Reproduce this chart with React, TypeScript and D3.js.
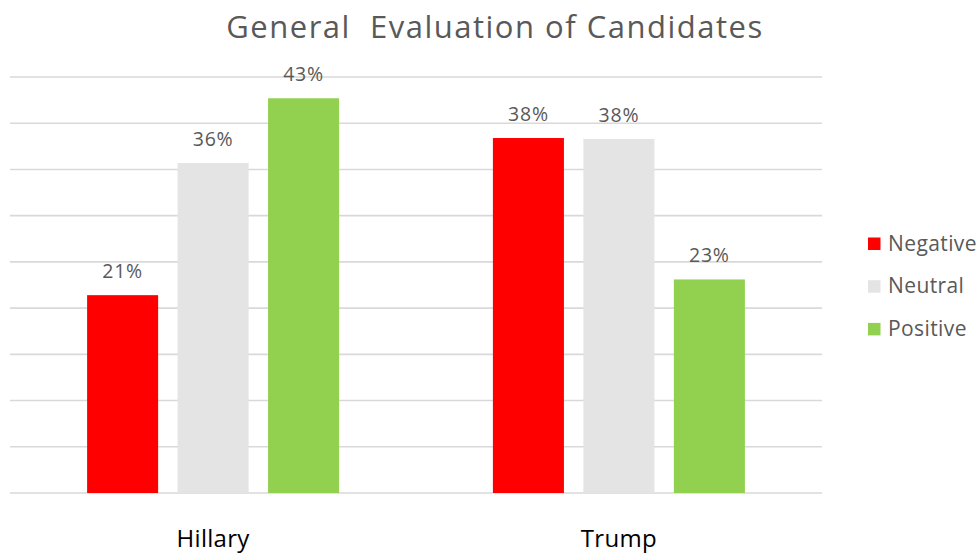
import React from "react";
import * as d3 from "d3";

const categories = ["Hillary", "Trump"];
const seriesNames = ["Negative", "Neutral", "Positive"];
const seriesColors = ["#ff0000", "#e4e4e4", "#92d050"];
const negativeValues = [21.4, 38.4];
const neutralValues = [35.7, 38.3];
const positiveValues = [42.7, 23.1];
const yTicks = [0, 5, 10, 15, 20, 25, 30, 35, 40, 45];
const title = "General  Evaluation of Candidates";

const W = 980;
const H = 554;
const FONT = "'Open Sans', 'Noto Sans', sans-serif";

export default function App() {
  const seriesValues = [negativeValues, neutralValues, positiveValues];
  const x0 = d3.scaleBand<string>().domain(categories).range([10, 822]).paddingInner(0.379).paddingOuter(0.19);
  const x1 = d3.scaleBand<string>().domain(seriesNames).range([0, x0.bandwidth()]).paddingInner(0.215).paddingOuter(0);
  const y = d3.scaleLinear().domain([0, 45]).range([493, 77]);

  return (
    <svg width={W} height={H} style={{ position: "absolute", left: 0, top: 0, background: "#fff" }}>
      <rect x={0} y={0} width={W} height={H} fill="#fff" />
      <text x={495} y={37.5} textAnchor="middle" fontFamily={FONT} fontSize={31} letterSpacing={1.5} fill="#595959" style={{ whiteSpace: "pre" }}>
        {title}
      </text>
      {yTicks.map((t) => (
        <line key={t} x1={10} x2={822} y1={y(t)} y2={y(t)} stroke="#d9d9d9" strokeWidth={1.6} />
      ))}
      {categories.map((c, ci) => (
        <g key={c} transform={`translate(${x0(c)},0)`}>
          {seriesNames.map((s, si) => {
            const v = seriesValues[si][ci];
            const bx = x1(s)!;
            return (
              <g key={s}>
                <rect x={bx} y={y(v)} width={x1.bandwidth()} height={y(0) - y(v)} fill={seriesColors[si]} />
                <text x={bx + x1.bandwidth() / 2} y={y(v) - 17} textAnchor="middle" fontFamily={FONT} fontSize={19.5} letterSpacing={0.8} fill="#595959">
                  {d3.format(".0f")(v) + "%"}
                </text>
              </g>
            );
          })}
          <text x={x0.bandwidth() / 2} y={547} textAnchor="middle" fontFamily={FONT} fontSize={24} letterSpacing={0.3} fill="#000">
            {c}
          </text>
        </g>
      ))}
      {seriesNames.map((s, si) => (
        <g key={s} transform={`translate(868,${237.5 + si * 42.7})`}>
          <rect x={0} y={0} width={12.5} height={12.5} fill={seriesColors[si]} />
          <text x={20} y={13} fontFamily={FONT} fontSize={21} letterSpacing={0.4} fill="#595959">
            {s}
          </text>
        </g>
      ))}
    </svg>
  );
}
